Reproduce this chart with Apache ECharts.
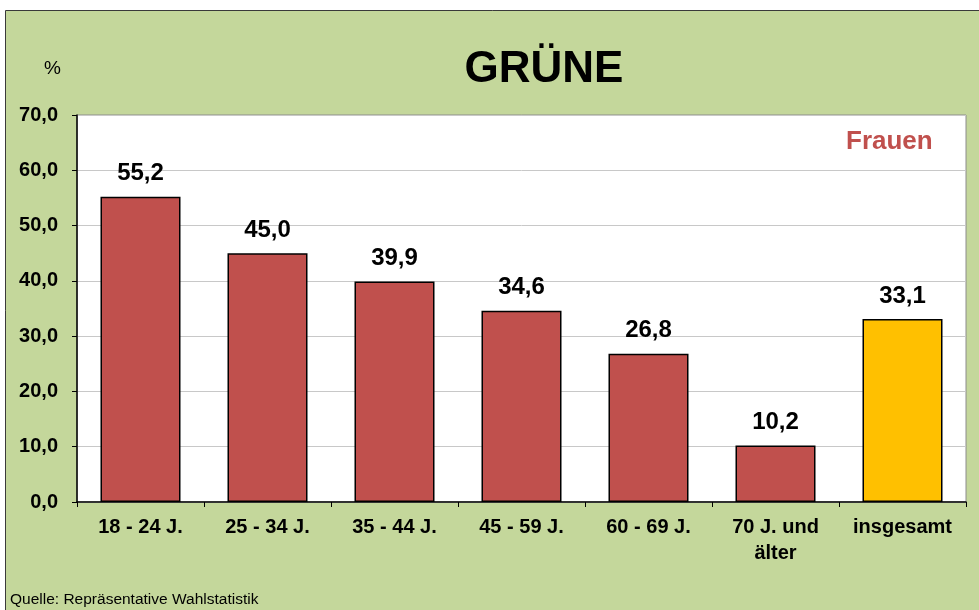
<!DOCTYPE html>
<html>
<head>
<meta charset="utf-8">
<script src="https://cdn.jsdelivr.net/npm/echarts@6/dist/echarts.min.js"></script>
<style>
    html, body { margin: 0; padding: 0; background: #ffffff; }
    #chart { width: 979px; height: 610px; }
</style>
</head>
<body>
<div id="chart"></div>
<script>
    // Werte aus der Grafik
    var categories = ['18 - 24 J.', '25 - 34 J.', '35 - 44 J.', '45 - 59 J.', '60 - 69 J.', '70 J. und\nälter', 'insgesamt'];
    var values = [55.2, 45.0, 39.9, 34.6, 26.8, 10.2, 33.1];
    var barColors = ['#c0504d', '#c0504d', '#c0504d', '#c0504d', '#c0504d', '#c0504d', '#ffc000'];

    var font = 'Liberation Sans, Arial, sans-serif';
    var fmt = function (v) { return Number(v).toFixed(1).replace('.', ','); };

    var chart = echarts.init(document.getElementById('chart'));
    chart.setOption({
        animation: false,
        graphic: [
            {
                type: 'rect', z: -10, silent: true,
                shape: { x: 5.5, y: 10.5, width: 980, height: 610 },
                style: { fill: '#c4d79b', stroke: '#3a3a3a', lineWidth: 1 }
            },
            {
                type: 'text', left: 44, top: 59,
                style: { text: '%', font: '19px ' + font, fill: '#000' }
            },
            {
                type: 'text', left: 846, top: 129,
                style: { text: 'Frauen', font: 'bold 26px ' + font, fill: '#c0504d' }
            },
            {
                type: 'text', left: 10, top: 592,
                style: { text: 'Quelle: Repräsentative Wahlstatistik', font: '15.5px ' + font, fill: '#000' }
            }
        ],
        title: {
            text: 'GRÜNE',
            left: 539,
            textAlign: 'center',
            top: 43,
            textStyle: { fontFamily: font, fontSize: 44, fontWeight: 'bold', color: '#000' }
        },
        grid: {
            left: 77, right: 13, top: 115, bottom: 108,
            show: true, backgroundColor: '#ffffff', borderColor: '#8c8c8c', borderWidth: 1
        },
        xAxis: {
            type: 'category',
            data: categories,
            axisLine: { lineStyle: { color: '#000', width: 1.5 } },
            axisTick: { show: true, length: 5, lineStyle: { color: '#000' } },
            axisLabel: {
                margin: 12, color: '#000', fontFamily: font, fontSize: 20,
                fontWeight: 'bold', lineHeight: 26, interval: 0
            }
        },
        yAxis: {
            type: 'value',
            min: 0, max: 70, interval: 10,
            axisLine: { show: true, lineStyle: { color: '#000', width: 1.5 } },
            axisTick: { show: true, length: 5, lineStyle: { color: '#000' } },
            splitLine: { lineStyle: { color: '#c8c8c8', width: 1 } },
            axisLabel: {
                margin: 19, color: '#000', fontFamily: font, fontSize: 20,
                fontWeight: 'bold', formatter: fmt
            }
        },
        series: [{
            type: 'bar',
            barWidth: '63%',
            data: values.map(function (v, i) {
                return { value: v, itemStyle: { color: barColors[i] } };
            }),
            itemStyle: { borderColor: '#000', borderWidth: 1.5 },
            label: {
                show: true, position: 'top', distance: 11,
                color: '#000', fontFamily: font, fontSize: 24, fontWeight: 'bold',
                formatter: function (p) { return fmt(p.value); }
            }
        }]
    });
</script>
</body>
</html>
